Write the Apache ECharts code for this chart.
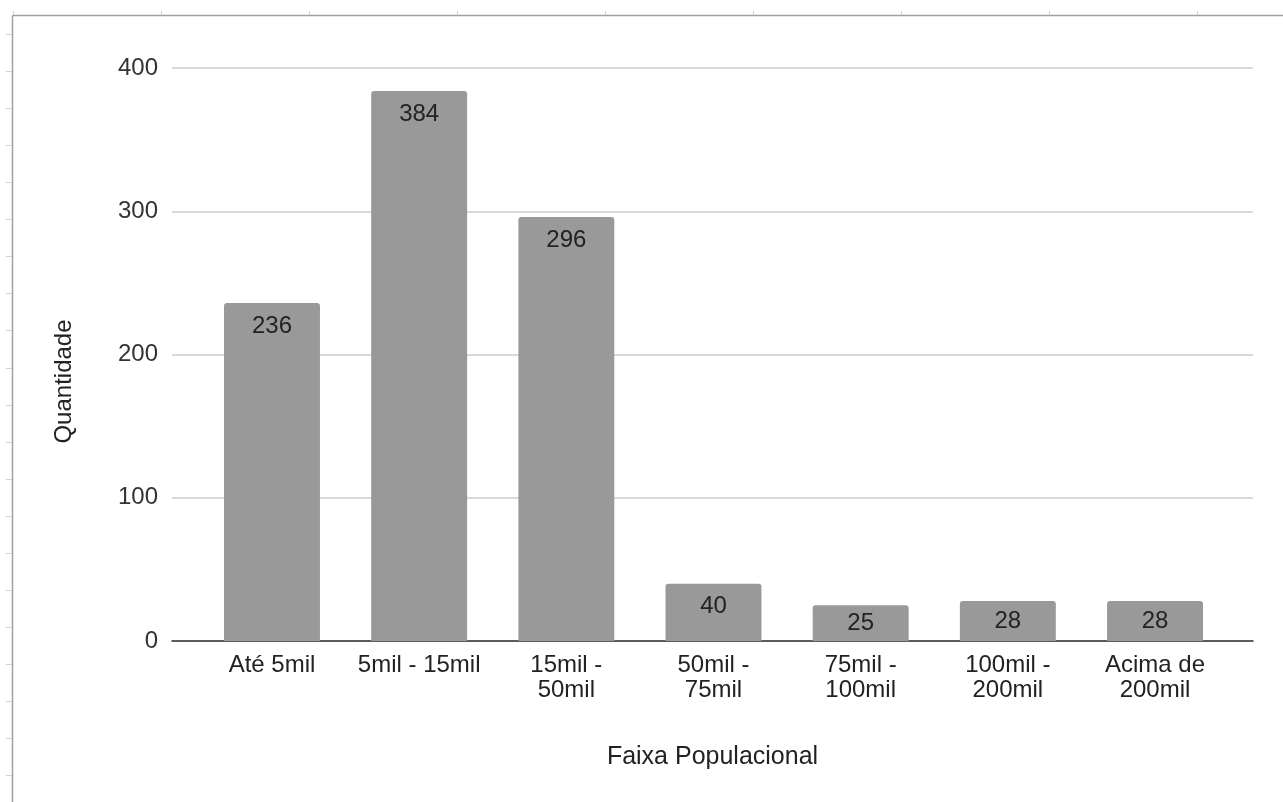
<!DOCTYPE html>
<html>
<head>
<meta charset="utf-8">
<title>Faixa Populacional</title>
<script src="https://cdn.jsdelivr.net/npm/echarts@6/dist/echarts.min.js"></script>
<style>
  html, body { margin: 0; padding: 0; background: #ffffff; }
  #chart { width: 1283px; height: 802px; }
</style>
</head>
<body>
<div id="chart"></div>
<script>
// Municípios por faixa populacional
const categories = ['Até 5mil', '5mil - 15mil', '15mil -\n50mil', '50mil -\n75mil', '75mil -\n100mil', '100mil -\n200mil', 'Acima de\n200mil'];
const quantidade = [236, 384, 296, 40, 25, 28, 28];
const yTicks = [0, 100, 200, 300, 400];

const FONT = '"Liberation Sans", Arial, sans-serif';
const yMin = yTicks[0];
const yMax = yTicks[yTicks.length - 1];
const yStep = yTicks[1] - yTicks[0];

// Sheet-style frame around the chart: border lines with small tick marks
const frame = [];
frame.push({ type: 'line', shape: { x1: 12.5, y1: 15.5, x2: 1283, y2: 15.5 }, style: { stroke: '#a0a0a0', lineWidth: 1.5 }, silent: true });
frame.push({ type: 'line', shape: { x1: 12.5, y1: 15.5, x2: 12.5, y2: 802 }, style: { stroke: '#a0a0a0', lineWidth: 1.5 }, silent: true });
for (let x = 13; x < 1283; x += 148) {
  frame.push({ type: 'line', shape: { x1: x + 0.5, y1: 11, x2: x + 0.5, y2: 15 }, style: { stroke: '#cfcfcf', lineWidth: 1 }, silent: true });
}
for (let y = 34; y < 802; y += 37.06) {
  const yy = Math.round(y) + 0.5;
  frame.push({ type: 'line', shape: { x1: 6, y1: yy, x2: 12, y2: yy }, style: { stroke: '#cfcfcf', lineWidth: 1 }, silent: true });
}

// Value labels sit at the top inside the bar, short bars get them centred
const barData = quantidade.map(v => ({
  value: v,
  label: { position: v < 35 ? 'inside' : 'insideTop' }
}));

const chart = echarts.init(document.getElementById('chart'), null, { renderer: 'canvas' });
chart.setOption({
  backgroundColor: '#ffffff',
  animation: false,
  graphic: frame,
  grid: [
    { left: 172, right: 30, top: 68, bottom: 161, containLabel: false },
    { left: 198.4, right: 54.4, top: 68, bottom: 161, containLabel: false }
  ],
  xAxis: [
    {
      gridIndex: 0, type: 'value', min: 0, max: 1,
      axisLine: { show: true, onZero: false, lineStyle: { color: '#333333', width: 1.5 } },
      axisTick: { show: false }, axisLabel: { show: false }, splitLine: { show: false },
      name: 'Faixa Populacional', nameLocation: 'middle', nameGap: 104,
      nameTextStyle: { fontFamily: FONT, fontSize: 25, color: '#222222' }
    },
    {
      gridIndex: 1, type: 'category', data: categories,
      axisLine: { show: false }, axisTick: { show: false }, splitLine: { show: false },
      axisLabel: { fontFamily: FONT, fontSize: 24, color: '#222222', lineHeight: 25, margin: 12, interval: 0 }
    }
  ],
  yAxis: [
    {
      gridIndex: 0, type: 'value', min: yMin, max: yMax, interval: yStep,
      axisLine: { show: false }, axisTick: { show: false },
      axisLabel: { fontFamily: FONT, fontSize: 24, color: '#333333', margin: 14 },
      splitLine: { show: true, lineStyle: { color: '#cccccc', width: 1.5 } },
      name: 'Quantidade', nameLocation: 'middle', nameGap: 96, nameRotate: 90,
      nameTextStyle: { fontFamily: FONT, fontSize: 24, color: '#222222', padding: [0, 54, 0, 0] }
    },
    {
      gridIndex: 1, type: 'value', min: yMin, max: yMax, interval: yStep, show: false,
      splitLine: { show: false }
    }
  ],
  series: [{
    type: 'bar',
    xAxisIndex: 1, yAxisIndex: 1,
    data: barData,
    barCategoryGap: '34.8%',
    itemStyle: { color: '#999999', borderRadius: [3, 3, 0, 0] },
    label: {
      show: true, distance: 11,
      fontFamily: FONT, fontSize: 24, color: '#222222'
    },
    z: 1
  }]
});
</script>
</body>
</html>
